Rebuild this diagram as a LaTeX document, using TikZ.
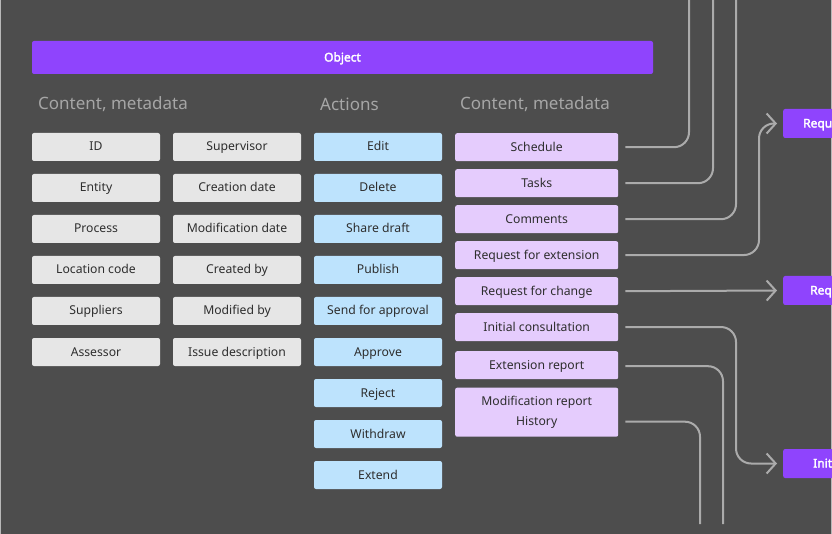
\documentclass[tikz,border=0pt]{standalone}
\usepackage{fontspec}
\setmainfont{Noto Sans}[AutoFakeBold=2.5]
\usetikzlibrary{arrows.meta}
\definecolor{bgc}{HTML}{4D4D4D}
\definecolor{objc}{HTML}{8F44FD}
\definecolor{grayc}{HTML}{E6E6E6}
\definecolor{bluec}{HTML}{BDE3FD}
\definecolor{lilac}{HTML}{E5CCFD}
\definecolor{txtc}{HTML}{2E2E2E}
\definecolor{headc}{HTML}{A6A6A6}
\definecolor{linec}{HTML}{ABABAB}
\tikzset{
  basebox/.style={rounded corners=2pt, inner sep=0pt, minimum height=28pt, text height=9.5pt, text depth=1.5pt, text=txtc, font=\fontsize{12.2}{14}\selectfont},
  gbox/.style={basebox, fill=grayc, minimum width=128pt},
  bbox/.style={basebox, fill=bluec, minimum width=128pt},
  pbox/.style={basebox, fill=lilac, minimum width=163pt, anchor=north west},
  header/.style={anchor=west, text=headc, font=\fontsize{17}{20}\selectfont, inner sep=0pt},
  rbox/.style={fill=objc, rounded corners=2pt, anchor=west, minimum height=29pt, text width=70pt, align=left, inner ysep=0pt, text height=9.5pt, text depth=1.5pt, text=white, font=\bfseries\fontsize{12}{14}\selectfont},
  conn/.style={draw=linec, line width=2pt, rounded corners=15pt},
  arr/.style={conn, -{Straight Barb[length=9pt,width=20pt,line width=2pt]}, shorten >=6pt}
}
\begin{document}
\begin{tikzpicture}[x=1pt,y=-1pt]
\fill[bgc] (0,0) rectangle (832,534);
\useasboundingbox (0,0) rectangle (832,534);
\draw[headc!80, line width=1pt] (0.5,0) -- (0.5,534);
\draw[headc!80, line width=1pt] (831.5,0) -- (831.5,534);

\node[fill=objc, rounded corners=2pt, minimum width=621pt, minimum height=33pt, inner sep=0pt, text height=9.5pt, text depth=1.5pt, text=white, font=\bfseries\fontsize{12}{14}\selectfont] (obj) at (342.5,57.5) {Object};

\node[header] (h1) at (38,104.5) {Content, metadata};
\node[header] (h2) at (320,104.5) {Actions};
\node[header] (h3) at (460,104.5) {Content, metadata};

% gray column 1
\node[gbox] (id) at (96,147) {ID};
\node[gbox] (entity) at (96,188) {Entity};
\node[gbox] (process) at (96,229) {Process};
\node[gbox] (loc) at (96,270) {Location code};
\node[gbox] (supp) at (96,311) {Suppliers};
\node[gbox] (assess) at (96,352) {Assessor};
% gray column 2
\node[gbox] (superv) at (237,147) {Supervisor};
\node[gbox] (cdate) at (237,188) {Creation date};
\node[gbox] (mdate) at (237,229) {Modification date};
\node[gbox] (cby) at (237,270) {Created by};
\node[gbox] (mby) at (237,311) {Modified by};
\node[gbox] (issue) at (237,352) {Issue description};
% actions
\node[bbox] (edit) at (378,147) {Edit};
\node[bbox] (delete) at (378,188) {Delete};
\node[bbox] (share) at (378,229) {Share draft};
\node[bbox] (publish) at (378,270) {Publish};
\node[bbox] (send) at (378,311) {Send for approval};
\node[bbox] (approve) at (378,352) {Approve};
\node[bbox] (reject) at (378,393) {Reject};
\node[bbox] (withdraw) at (378,434) {Withdraw};
\node[bbox] (extend) at (378,475) {Extend};
% lilac column
\node[pbox] (sched) at (455,133) {Schedule};
\node[pbox] (tasks) at (455,169) {Tasks};
\node[pbox] (comm) at (455,205) {Comments};
\node[pbox] (rfe) at (455,241) {Request for extension};
\node[pbox] (rfc) at (455,277) {Request for change};
\node[pbox] (ic) at (455,313) {Initial consultation};
\node[pbox] (er) at (455,351) {Extension report};
\node[pbox, minimum height=49pt, text height=, text depth=, align=center, font=\fontsize{12.2}{20.5}\selectfont] (mrh) at (455,387.5) {Modification report\\History};

% right boxes (cut by the edge)
\node[rbox, inner xsep=20pt] (rq1) at (783,123.5) {Requ};
\node[rbox, inner xsep=27pt] (rq2) at (783,290.5) {Req};
\node[rbox, inner xsep=30pt] (rq3) at (783,463.5) {Init};

\coordinate (t1) at (689,-3);
\coordinate (t2) at (713,-3);
\coordinate (t3) at (736,-3);
\coordinate (b1) at (723,524);
\coordinate (b2) at (700,524);

\draw[conn] ([xshift=7pt]sched.east) -| (t1);
\draw[conn] ([xshift=7pt]tasks.east) -| (t2);
\draw[conn] ([xshift=7pt]comm.east) -| (t3);
\draw[arr] ([xshift=7pt]rfe.east) -- (759,255) -- (759,123.5) -- (rq1.west);
\draw[arr] ([xshift=7pt]rfc.east) -- (rq2.west);
\draw[arr] ([xshift=7pt]ic.east) -- (736,327) -- (736,463.5) -- (rq3.west);
\draw[conn] ([xshift=7pt,yshift=-1pt]er.east) -| (b1);
\draw[conn] ([xshift=7pt,yshift=-9.5pt]mrh.east) -| (b2);
\end{tikzpicture}
\end{document}
